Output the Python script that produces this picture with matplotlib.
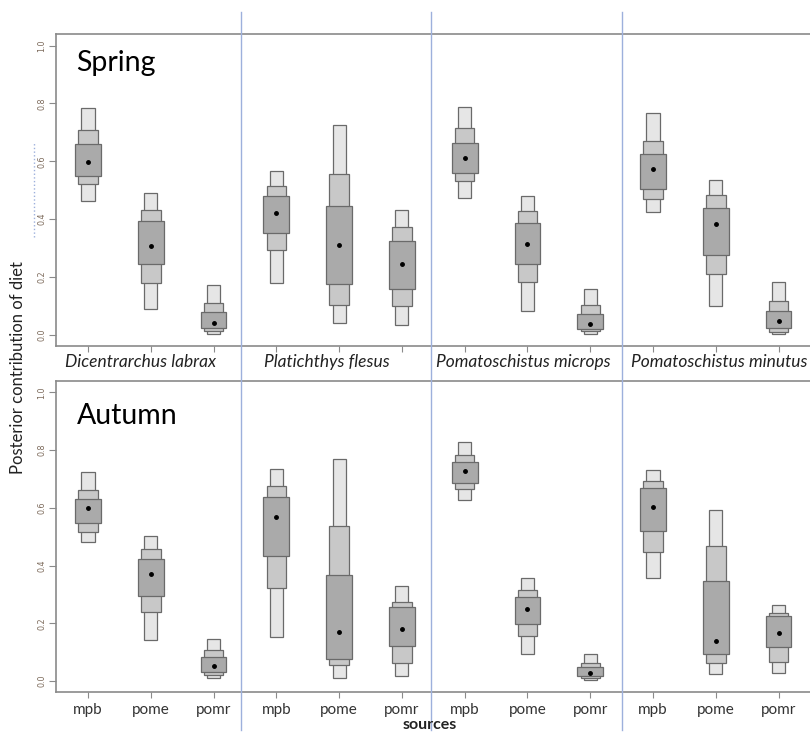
import matplotlib
matplotlib.use("Agg")
import matplotlib.pyplot as plt
from matplotlib.lines import Line2D
from matplotlib.patches import Rectangle
from matplotlib.transforms import blended_transform_factory

plt.rcParams['font.family'] = ['Lato', 'DejaVu Sans']

species = ["Dicentrarchus labrax", "Platichthys flesus",
           "Pomatoschistus microps", "Pomatoschistus minutus"]
sources = ["mpb", "pome", "pomr"]

# posterior summaries per species x source (mode and 50/75/95% credible bounds)
spring_mode = [0.599, 0.306, 0.042, 0.423, 0.311, 0.247, 0.611, 0.314, 0.037, 0.573, 0.382, 0.049]
spring_hi95 = [0.783, 0.491, 0.173, 0.565, 0.727, 0.431, 0.788, 0.479, 0.160, 0.767, 0.535, 0.184]
spring_hi75 = [0.708, 0.431, 0.111, 0.516, 0.556, 0.373, 0.716, 0.428, 0.104, 0.670, 0.484, 0.117]
spring_hi50 = [0.661, 0.394, 0.078, 0.479, 0.446, 0.325, 0.665, 0.387, 0.074, 0.626, 0.438, 0.082]
spring_lo50 = [0.551, 0.247, 0.025, 0.351, 0.176, 0.158, 0.560, 0.247, 0.020, 0.504, 0.276, 0.023]
spring_lo75 = [0.521, 0.180, 0.015, 0.293, 0.103, 0.099, 0.533, 0.184, 0.013, 0.469, 0.211, 0.011]
spring_lo95 = [0.463, 0.089, 0.003, 0.178, 0.042, 0.035, 0.475, 0.084, 0.002, 0.425, 0.099, 0.002]

autumn_mode = [0.598, 0.369, 0.051, 0.568, 0.169, 0.179, 0.727, 0.251, 0.029, 0.602, 0.138, 0.167]
autumn_hi95 = [0.723, 0.501, 0.146, 0.733, 0.768, 0.329, 0.829, 0.356, 0.094, 0.730, 0.594, 0.265]
autumn_hi75 = [0.663, 0.456, 0.106, 0.675, 0.538, 0.272, 0.782, 0.316, 0.062, 0.692, 0.468, 0.237]
autumn_hi50 = [0.630, 0.424, 0.082, 0.637, 0.368, 0.255, 0.758, 0.292, 0.047, 0.669, 0.347, 0.225]
autumn_lo50 = [0.546, 0.295, 0.031, 0.433, 0.078, 0.122, 0.687, 0.198, 0.017, 0.519, 0.095, 0.118]
autumn_lo75 = [0.517, 0.238, 0.021, 0.321, 0.055, 0.064, 0.664, 0.155, 0.009, 0.447, 0.063, 0.066]
autumn_lo95 = [0.483, 0.141, 0.009, 0.151, 0.009, 0.018, 0.628, 0.092, 0.003, 0.357, 0.025, 0.027]

yticks = [0.0, 0.2, 0.4, 0.6, 0.8, 1.0]

fig = plt.figure(figsize=(8.1, 7.34), dpi=100)
ax_top = fig.add_axes([0.0691, 0.5286, 0.9309, 0.4251])
ax_bot = fig.add_axes([0.0691, 0.0572, 0.9309, 0.4241])

xs = list(range(1, 13))
edge = "#6a6a6a"


def draw_boxes(ax, mode, lo95, hi95, lo75, hi75, lo50, hi50):
    for i, x in enumerate(xs):
        for lo, hi, w, col in [(lo95, hi95, 0.21, "#e6e6e6"),
                               (lo75, hi75, 0.31, "#c8c8c8"),
                               (lo50, hi50, 0.41, "#aaaaaa")]:
            ax.add_patch(Rectangle((x - w / 2, lo[i]), w, hi[i] - lo[i],
                                   facecolor=col, edgecolor=edge, linewidth=0.9))
        ax.plot(x, mode[i], "o", color="black", markersize=2.5)


draw_boxes(ax_top, spring_mode, spring_lo95, spring_hi95,
           spring_lo75, spring_hi75, spring_lo50, spring_hi50)
draw_boxes(ax_bot, autumn_mode, autumn_lo95, autumn_hi95,
           autumn_lo75, autumn_hi75, autumn_lo50, autumn_hi50)

for ax in (ax_top, ax_bot):
    ax.set_xlim(0.49, 12.5)
    ax.set_ylim(-0.038, 1.04)
    ax.spines["right"].set_visible(False)
    for s in ("left", "top", "bottom"):
        ax.spines[s].set_color("#8a8a8a")
        ax.spines[s].set_linewidth(1.2)
    ax.set_yticks(yticks)
    ax.set_yticklabels([f"{v:.1f}" for v in yticks], rotation=90, va="center",
                       fontsize=5.8, color="#7d6b5c", family="DejaVu Sans")
    ax.tick_params(axis="y", length=5, color="#8a8a8a", pad=2)
    ax.set_xticks(xs)
    ax.tick_params(axis="x", length=4, color="#8a8a8a")

ax_top.set_xticklabels([])
ax_bot.set_xticklabels(sources * 4, fontsize=11, color="#333333")
ax_bot.tick_params(axis="x", pad=4)

ax_top.text(0.0265, 0.881, "Spring", transform=ax_top.transAxes,
            fontsize=20.5, va="baseline", ha="left")
ax_bot.text(0.0279, 0.861, "Autumn", transform=ax_bot.transAxes,
            fontsize=20.5, va="baseline", ha="left")

# species names between the two rows
name_tf = blended_transform_factory(ax_bot.transData, fig.transFigure)
for name, xc in zip(species, [1.83, 4.81, 7.93, 11.05]):
    fig.text(xc, 1 - 362 / 734, name, transform=name_tf,
             ha="center", va="center", fontsize=12.5, style="italic",
             color="#222222")

fig.text(0.022, 0.4986, "Posterior contribution of diet", rotation=90,
         ha="center", va="center", fontsize=12, color="#222222")
fig.text(0.531, 2 / 734, "sources", ha="center", va="bottom",
         fontsize=11.5, fontweight="bold", color="#222222")

# panel separators
for xf in (241 / 810, 431 / 810, 622 / 810):
    fig.add_artist(Line2D([xf, xf], [0.0054, 0.984], transform=fig.transFigure,
                          color="#9db0dc", linewidth=1.0))
fig.add_artist(Line2D([34 / 810, 34 / 810], [1 - 237 / 734, 1 - 143 / 734],
                      transform=fig.transFigure, color="#9db0dc",
                      linewidth=1.0, linestyle=":"))

fig.savefig("out.png", dpi=100)
